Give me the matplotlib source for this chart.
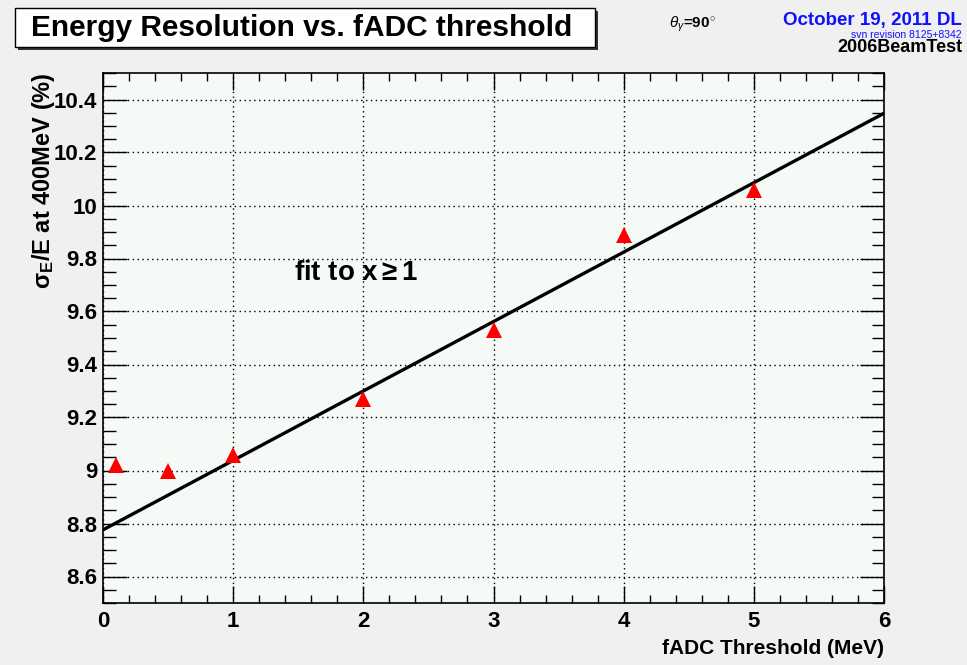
import numpy as np
import matplotlib.pyplot as plt
from matplotlib.patches import Rectangle
from matplotlib.ticker import MultipleLocator

plt.rcParams['font.family'] = ['Liberation Sans', 'DejaVu Sans']
plt.rcParams['mathtext.fontset'] = 'custom'
plt.rcParams['mathtext.rm'] = 'Liberation Sans:bold'
plt.rcParams['mathtext.it'] = 'Liberation Sans:italic'
plt.rcParams['mathtext.bf'] = 'Liberation Sans:bold'

# fADC threshold (MeV) and resolution at 400 MeV (%)
threshold = [0.1, 0.5, 1.0, 2.0, 3.0, 4.0, 5.0]
resolution = [9.02, 9.00, 9.06, 9.27, 9.53, 9.89, 10.06]
fit_min_x = 1.0
x_range = [0, 6]
y_range = [8.5, 10.5]

W, H = 967, 665
fig = plt.figure(figsize=(W / 100, H / 100), dpi=100, facecolor='#f0f0f0')
ax = fig.add_axes([103 / W, 1 - 603 / H, (884 - 103) / W, (603 - 73) / H])
ax.set_facecolor('#f6faf7')

# linear fit to points with x >= 1
x = np.array(threshold)
y = np.array(resolution)
sel = x >= fit_min_x
p1, p0 = np.polyfit(x[sel], y[sel], 1)
xf = np.array(x_range, dtype=float)
ax.plot(xf, p0 + p1 * xf, color='black', lw=2.4, zorder=3)

ax.plot(x, y, linestyle='none', marker='^', color='red', markersize=12,
        markeredgewidth=0, zorder=4)

ax.set_xlim(*x_range)
ax.set_ylim(*y_range)
ax.xaxis.set_major_locator(MultipleLocator(1))
ax.xaxis.set_minor_locator(MultipleLocator(0.2))
ax.yaxis.set_major_locator(MultipleLocator(0.2))
ax.yaxis.set_minor_locator(MultipleLocator(0.05))
ax.tick_params(which='both', direction='in', top=True, right=True, width=1.0)
ax.tick_params(axis='y', which='major', length=17)
ax.tick_params(axis='y', which='minor', length=9)
ax.tick_params(axis='x', which='major', length=12)
ax.tick_params(axis='x', which='minor', length=6)
ax.tick_params(axis='x', which='major', labelsize=16, pad=6)
ax.tick_params(axis='y', which='major', labelsize=16, pad=4)
for lab in ax.get_xticklabels() + ax.get_yticklabels():
    lab.set_fontweight('bold')
ax.yaxis.set_major_formatter(plt.FuncFormatter(lambda v, _: f'{v:g}'))
ax.grid(True, which='major', color='black', linestyle=(0, (1, 2.5)), lw=1.0)
ax.set_axisbelow(True)
for s in ax.spines.values():
    s.set_linewidth(1.2)

ax.text(1.47, 9.72, r'fit to x$\geq$1', fontsize=20, fontweight='bold')

fig.text(884 / W, 1 - 648 / H, 'fADC Threshold (MeV)', ha='right', va='center',
         fontsize=15, fontweight='bold')
fig.text(44 / W, 1 - 72 / H, 'σ$_{\\mathrm{E}}$/E at 400MeV (%)', rotation=90,
         ha='center', va='top', fontsize=17, fontweight='bold')

# title box with shadow
fig.patches.append(Rectangle((18 / W, 1 - 50 / H), 580 / W, 39 / H,
                             transform=fig.transFigure, facecolor='#333333',
                             edgecolor='none', zorder=1))
fig.patches.append(Rectangle((15 / W, 1 - 47 / H), 580 / W, 39 / H,
                             transform=fig.transFigure, facecolor='white',
                             edgecolor='black', lw=1.0, zorder=2))
fig.text(302 / W, 1 - 28 / H, 'Energy Resolution vs. fADC threshold', ha='center',
         va='center', fontsize=21.5, fontweight='bold', zorder=3)

fig.text(692 / W, 1 - 24 / H, r'$\theta_{\gamma}$=90$^{\circ}$', ha='center',
         va='center', fontsize=11, fontweight='bold')
fig.text(962 / W, 1 - 20 / H, 'October 19, 2011 DL', ha='right', va='center',
         fontsize=13.5, fontweight='bold', color='#1010ff')
fig.text(962 / W, 1 - 35 / H, 'svn revision 8125+8342', ha='right', va='center',
         fontsize=7.5, color='#1010ff')
fig.text(962 / W, 1 - 48 / H, '2006BeamTest', ha='right', va='center',
         fontsize=13, fontweight='bold')

fig.savefig('out.png', dpi=100, facecolor=fig.get_facecolor())
